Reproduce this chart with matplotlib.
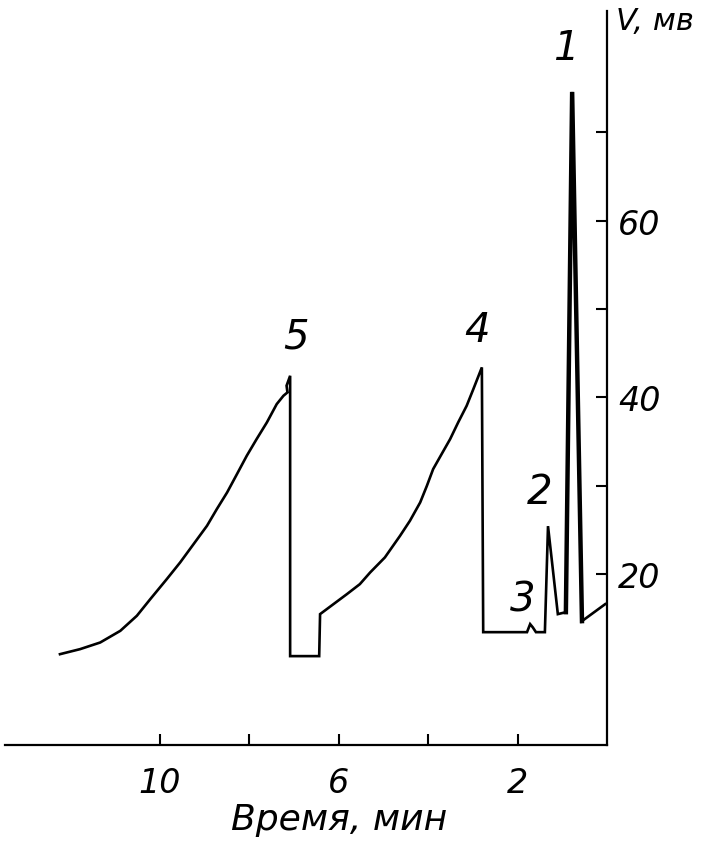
import matplotlib

matplotlib.use("Agg")
import matplotlib.pyplot as plt

# chromatogram trace, time in minutes (axis runs right to left), signal in mV
time_min = [
    12.24, 11.79, 11.34, 10.89, 10.52, 10.22, 9.85, 9.55, 9.25, 8.95, 8.73, 8.50,
    8.28, 8.06, 7.84, 7.61, 7.39, 7.24, 7.15, 7.17, 7.09,
    7.09, 6.44, 6.42, 6.12, 5.82, 5.53, 5.30, 4.97, 4.63, 4.41, 4.18, 4.03, 3.89,
    3.70, 3.51, 3.33, 3.14, 2.99, 2.80,
    2.77, 1.79, 1.72, 1.66, 1.59, 1.39, 1.32, 1.10, 0.92, 0.78, 0.56, 0.04,
]
signal_mv = [
    10.97, 11.54, 12.29, 13.61, 15.31, 17.19, 19.46, 21.35, 23.42, 25.49, 27.38, 29.26,
    31.33, 33.41, 35.29, 37.18, 39.25, 40.19, 40.57, 41.33, 42.45,
    10.75, 10.75, 15.50, 16.63, 17.76, 18.89, 20.21, 21.91, 24.36, 26.05, 28.13, 30.01, 31.90,
    33.60, 35.29, 37.18, 39.06, 40.95, 43.40,
    13.46, 13.46, 14.37, 14.0, 13.46, 13.46, 25.45, 15.50, 15.72, 74.55, 14.71, 16.63,
]

peak_labels = ["1", "2", "3", "4", "5"]
peak_label_t = [0.92, 1.50, 1.88, 2.91, 6.96]
peak_label_v = [79.6, 29.4, 17.2, 47.7, 46.9]

x_ticks = [2, 4, 6, 8, 10]
x_tick_labels = ["2", "", "6", "", "10"]
y_ticks = [20, 30, 40, 50, 60, 70]
y_tick_labels = ["20", "", "40", "", "60", ""]

W, H = 701, 845
fig = plt.figure(figsize=(W / 100, H / 100), dpi=100)
ax = fig.add_axes([5 / W, 99 / H, 602 / W, 734 / H])

ax.plot(time_min, signal_mv, color="black", linewidth=1.9, solid_joinstyle="miter")
# the tall first peak is drawn with a heavier pen in the original
ax.plot(time_min[-4:-1], signal_mv[-4:-1], color="black", linewidth=3.2,
        solid_joinstyle="miter")

ax.set_xlim(13.47, 0)
ax.set_ylim(0.7, 83.7)

for spine in ("top", "left"):
    ax.spines[spine].set_visible(False)
for spine in ("bottom", "right"):
    ax.spines[spine].set_linewidth(1.6)

ax.yaxis.tick_right()
ax.set_xticks(x_ticks)
ax.set_xticklabels(x_tick_labels)
ax.set_yticks(y_ticks)
ax.set_yticklabels(y_tick_labels)
ax.tick_params(axis="x", direction="in", length=8, width=1.5, pad=15, labelsize=24)
ax.tick_params(axis="y", direction="in", length=8, width=1.5, pad=8, labelsize=24)
for lbl in ax.get_xticklabels() + ax.get_yticklabels():
    lbl.set_fontstyle("italic")

for text, t, v in zip(peak_labels, peak_label_t, peak_label_v):
    ax.text(t, v, text, fontsize=29, fontstyle="italic", ha="center", va="center")

fig.text(655 / W, 1 - 22 / H, "V, мв", fontsize=22, fontstyle="italic",
         ha="center", va="center")
fig.text(339 / W, 1 - 820 / H, "Время, мин", fontsize=26, fontstyle="italic",
         ha="center", va="center")

fig.savefig("out.png", dpi=100, facecolor="white")
